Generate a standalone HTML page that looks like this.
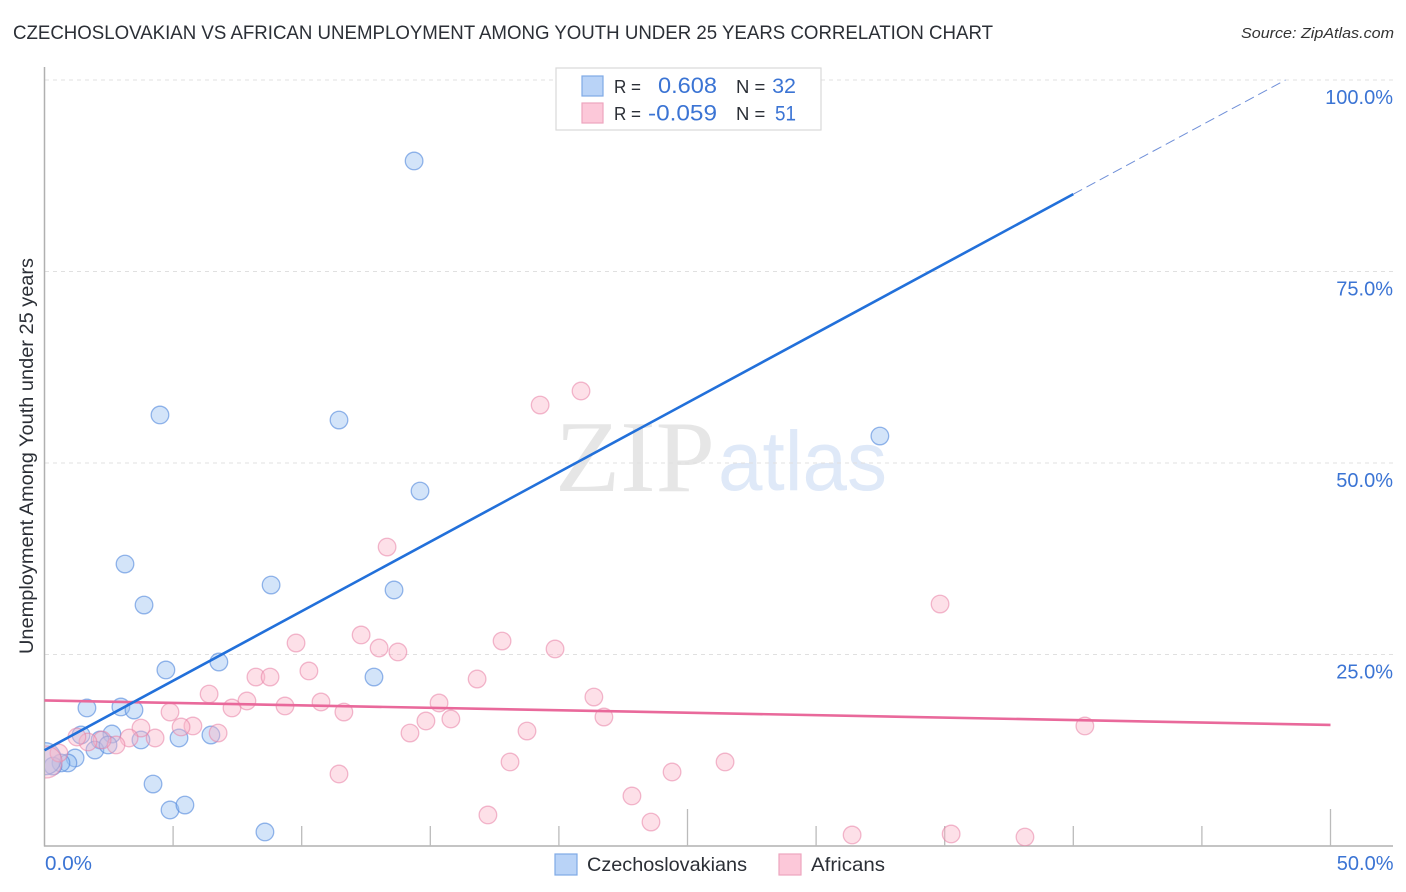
<!DOCTYPE html>
<html>
<head>
<meta charset="utf-8">
<title>Czechoslovakian vs African Unemployment Chart</title>
<style>
html,body{margin:0;padding:0;background:#fff;width:1406px;height:892px;overflow:hidden}
svg{display:block}
text{font-family:"Liberation Sans",sans-serif}
</style>
</head>
<body>
<svg id="chart" width="1406" height="892" viewBox="0 0 1406 892" xmlns="http://www.w3.org/2000/svg">
<defs><clipPath id="plot-clip"><rect x="45" y="60" width="1350" height="786"/></clipPath></defs>
<text x="13" y="39" font-size="19" fill="#2b2f36" textLength="980" lengthAdjust="spacingAndGlyphs">CZECHOSLOVAKIAN VS AFRICAN UNEMPLOYMENT AMONG YOUTH UNDER 25 YEARS CORRELATION CHART</text>
<text x="1241" y="38" font-size="15" font-style="italic" fill="#333" textLength="153" lengthAdjust="spacingAndGlyphs">Source: ZipAtlas.com</text>
<text transform="translate(33,456) rotate(-90)" text-anchor="middle" font-size="19" fill="#2b2f36" textLength="396" lengthAdjust="spacingAndGlyphs">Unemployment Among Youth under 25 years</text>
<g>
<text x="555" y="491" font-size="102" fill="#e6e6e6" style="font-family:'Liberation Serif',serif" textLength="160" lengthAdjust="spacingAndGlyphs">ZIP</text>
<text x="718" y="490" font-size="84" fill="#dfe9f8" textLength="169" lengthAdjust="spacingAndGlyphs">atlas</text>
</g>
<g id="grid"></g>
<g id="axes"></g>
<g id="points" clip-path="url(#plot-clip)"></g>
<g id="trends"></g>
<g id="labels"></g>
<g>
<rect x="556" y="68" width="265" height="62" fill="#fff" stroke="#d9d9d9" stroke-width="1.2"/>
<rect x="582" y="76" width="21" height="20" fill="#b9d3f7" stroke="#7faae6" stroke-width="1.2"/>
<rect x="582" y="103" width="21" height="20" fill="#fcc8d9" stroke="#eda5bf" stroke-width="1.2"/>
<text x="614" y="93" font-size="18.5" fill="#2b2f36" textLength="27" lengthAdjust="spacingAndGlyphs">R =</text>
<text x="614" y="120" font-size="18.5" fill="#2b2f36" textLength="27" lengthAdjust="spacingAndGlyphs">R =</text>
<text x="658" y="93" font-size="22" fill="#3b74d4" textLength="59" lengthAdjust="spacingAndGlyphs">0.608</text>
<text x="648" y="120.500" font-size="22" fill="#3b74d4" textLength="69" lengthAdjust="spacingAndGlyphs">-0.059</text>
<text x="736" y="93" font-size="18.5" fill="#2b2f36">N =</text>
<text x="736" y="120" font-size="18.5" fill="#2b2f36">N =</text>
<text x="796" y="93" font-size="21.5" fill="#3b74d4" text-anchor="end">32</text>
<text x="796" y="120.500" font-size="21.5" fill="#3b74d4" text-anchor="end" textLength="21" lengthAdjust="spacingAndGlyphs">51</text>
</g>
<g>
<rect x="555" y="854" width="22" height="21" fill="#b9d3f7" stroke="#7faae6" stroke-width="1.2"/>
<text x="587" y="871" font-size="19.500" fill="#2b2f36" textLength="160" lengthAdjust="spacingAndGlyphs">Czechoslovakians</text>
<rect x="779" y="854" width="22" height="21" fill="#fcc8d9" stroke="#eda5bf" stroke-width="1.2"/>
<text x="811" y="871" font-size="19.500" fill="#2b2f36" textLength="74" lengthAdjust="spacingAndGlyphs">Africans</text>
</g>
</svg>
<script>
var blueX = [14.37,4.49,11.45,32.48,14.60,3.13,8.81,13.59,3.87,6.78,4.72,12.81,1.65,2.97,3.48,1.42,2.62,2.16,3.75,5.23,6.47,1.96,2.47,1.19,0.91,0.64,0.33,0.02,4.22,4.88,5.46,8.57];
var blueY = [89.43,56.27,55.61,53.52,46.34,36.81,34.07,33.42,31.46,24.02,22.98,22.06,18.02,18.15,17.75,14.49,14.62,13.84,13.84,14.10,14.49,12.53,13.19,11.49,10.84,10.84,10.44,11.40,8.09,4.70,5.35,1.83];
var blueWeight = [1,1,1,1,1,1,1,1,1,1,1,1,1,1,1,1,1,1,1,1,1,1,1,1,1,1,1,2,1,1,1,1];
var pinkX = [9.78,12.31,13.01,13.74,17.79,10.28,8.22,8.77,16.82,7.87,9.35,10.75,11.64,15.34,14.83,15.80,14.21,18.76,4.88,5.77,5.31,6.75,4.30,3.75,3.29,2.78,2.24,1.69,1.26,0.56,0.06,19.27,20.86,13.32,34.82,19.85,6.40,7.29,21.36,21.75,40.45,18.10,11.45,24.40,26.46,22.84,17.24,23.58,31.40,35.25,38.12];
var pinkY = [26.50,27.55,25.85,25.33,26.76,22.85,22.06,22.06,21.80,18.93,18.28,18.80,17.49,18.67,16.32,16.58,14.75,15.01,17.49,15.67,15.54,14.75,14.10,15.40,14.10,13.19,13.84,13.58,14.23,12.14,10.97,57.57,59.40,39.03,31.59,25.72,19.84,18.02,19.45,16.84,15.67,10.97,9.40,9.66,10.97,6.53,4.05,3.13,1.44,1.57,1.17];
var pinkWeight = [1,1,1,1,1,1,1,1,1,1,1,1,1,1,1,1,1,1,1,1,1,1,1,1,1,1,1,1,1,1,2,1,1,1,1,1,1,1,1,1,1,1,1,1,1,1,1,1,1,1,1];
var blueTrendX = [0,40];
var blueTrendY = [12.5,85.1];
var blueForecastX = [40,48.25];
var blueForecastY = [85.1,100];
var pinkTrendX = [0,50];
var pinkTrendY = [19.0,15.8];
var yTicks = [25,50,75,100];
var yTickLabels = ["25.0%","50.0%","75.0%","100.0%"];
var xTicks = [5,10,15,20,25,30,35,40,45,50];
var xMajorTicks = [25,50];
var xEndTicks = [0,50];
var xEndLabels = ["0.0%","50.0%"];

var NS = 'http://www.w3.org/2000/svg';
function xScale(v){ return 44.5 + v * 25.72; }
function yScale(v){ return 846 - v * 7.66; }
function make(tag, attrs, parent){
  var el = document.createElementNS(NS, tag);
  for (var k in attrs) el.setAttribute(k, attrs[k]);
  parent.appendChild(el);
  return el;
}
var gridG = document.getElementById('grid');
var axesG = document.getElementById('axes');
var pointsG = document.getElementById('points');
var trendsG = document.getElementById('trends');
var labelsG = document.getElementById('labels');

yTicks.forEach(function(t, i){
  var line = make('line', {x1:45, x2:1393, y1:yScale(t), y2:yScale(t), stroke:'#e0e0e0', 'stroke-width':1, 'stroke-dasharray':'4 4'}, gridG);
  
  
  var label = make('text', {x:1393, y:yScale(t) + 24, 'text-anchor':'end', 'font-size':20, fill:'#3b74d4'}, labelsG);
  label.textContent = yTickLabels[i];
  
  
});

var yAxis = make('line', {x1:44.5, x2:44.5, y1:67, y2:846.500, stroke:'#b0b0b0', 'stroke-width':1.5}, axesG);


var xAxis = make('line', {x1:44, x2:1393, y1:846, y2:846, stroke:'#b0b0b0', 'stroke-width':1.5}, axesG);



xTicks.forEach(function(t){
  var top = xMajorTicks.indexOf(t) >= 0 ? 809 : 826;
  var tick = make('line', {x1:xScale(t), x2:xScale(t), y1:top, y2:846, stroke:'#bbbbbb', 'stroke-width':1.3}, axesG);
  
  
});

var xLabelLeft = make('text', {x:xScale(xEndTicks[0]) + 0.5, y:870, 'font-size':20, fill:'#3b74d4', textLength:47, lengthAdjust:'spacingAndGlyphs'}, labelsG);
xLabelLeft.textContent = xEndLabels[0];


var xLabelRight = make('text', {x:xScale(xEndTicks[1]) + 63, y:870, 'text-anchor':'end', 'font-size':20, fill:'#3b74d4'}, labelsG);
xLabelRight.textContent = xEndLabels[1];



blueX.forEach(function(v, i){
  var c = make('circle', {cx:xScale(v), cy:yScale(blueY[i]), r:blueWeight[i] > 1 ? 16 : 8.8, fill:'rgba(150,190,240,0.42)', stroke:'rgba(80,135,220,0.6)', 'stroke-width':1.3}, pointsG);
  
  
});
pinkX.forEach(function(v, i){
  var c = make('circle', {cx:xScale(v), cy:yScale(pinkY[i]), r:pinkWeight[i] > 1 ? 16 : 8.8, fill:'rgba(250,180,200,0.42)', stroke:'rgba(232,130,165,0.55)', 'stroke-width':1.3}, pointsG);
  
  
});

var forecast = make('line', {x1:xScale(blueForecastX[0]), y1:yScale(blueForecastY[0]), x2:xScale(blueForecastX[1]), y2:yScale(blueForecastY[1]), stroke:'#6f8fd8', 'stroke-width':1, 'stroke-dasharray':'10 5'}, trendsG);


var pinkLine = make('line', {x1:xScale(pinkTrendX[0]), y1:yScale(pinkTrendY[0]), x2:xScale(pinkTrendX[1]), y2:yScale(pinkTrendY[1]), stroke:'#e9699b', 'stroke-width':2.6}, trendsG);


var blueLine = make('line', {x1:xScale(blueTrendX[0]), y1:yScale(blueTrendY[0]), x2:xScale(blueTrendX[1]), y2:yScale(blueTrendY[1]), stroke:'#2270da', 'stroke-width':2.6}, trendsG);


</script>
</body>
</html>
